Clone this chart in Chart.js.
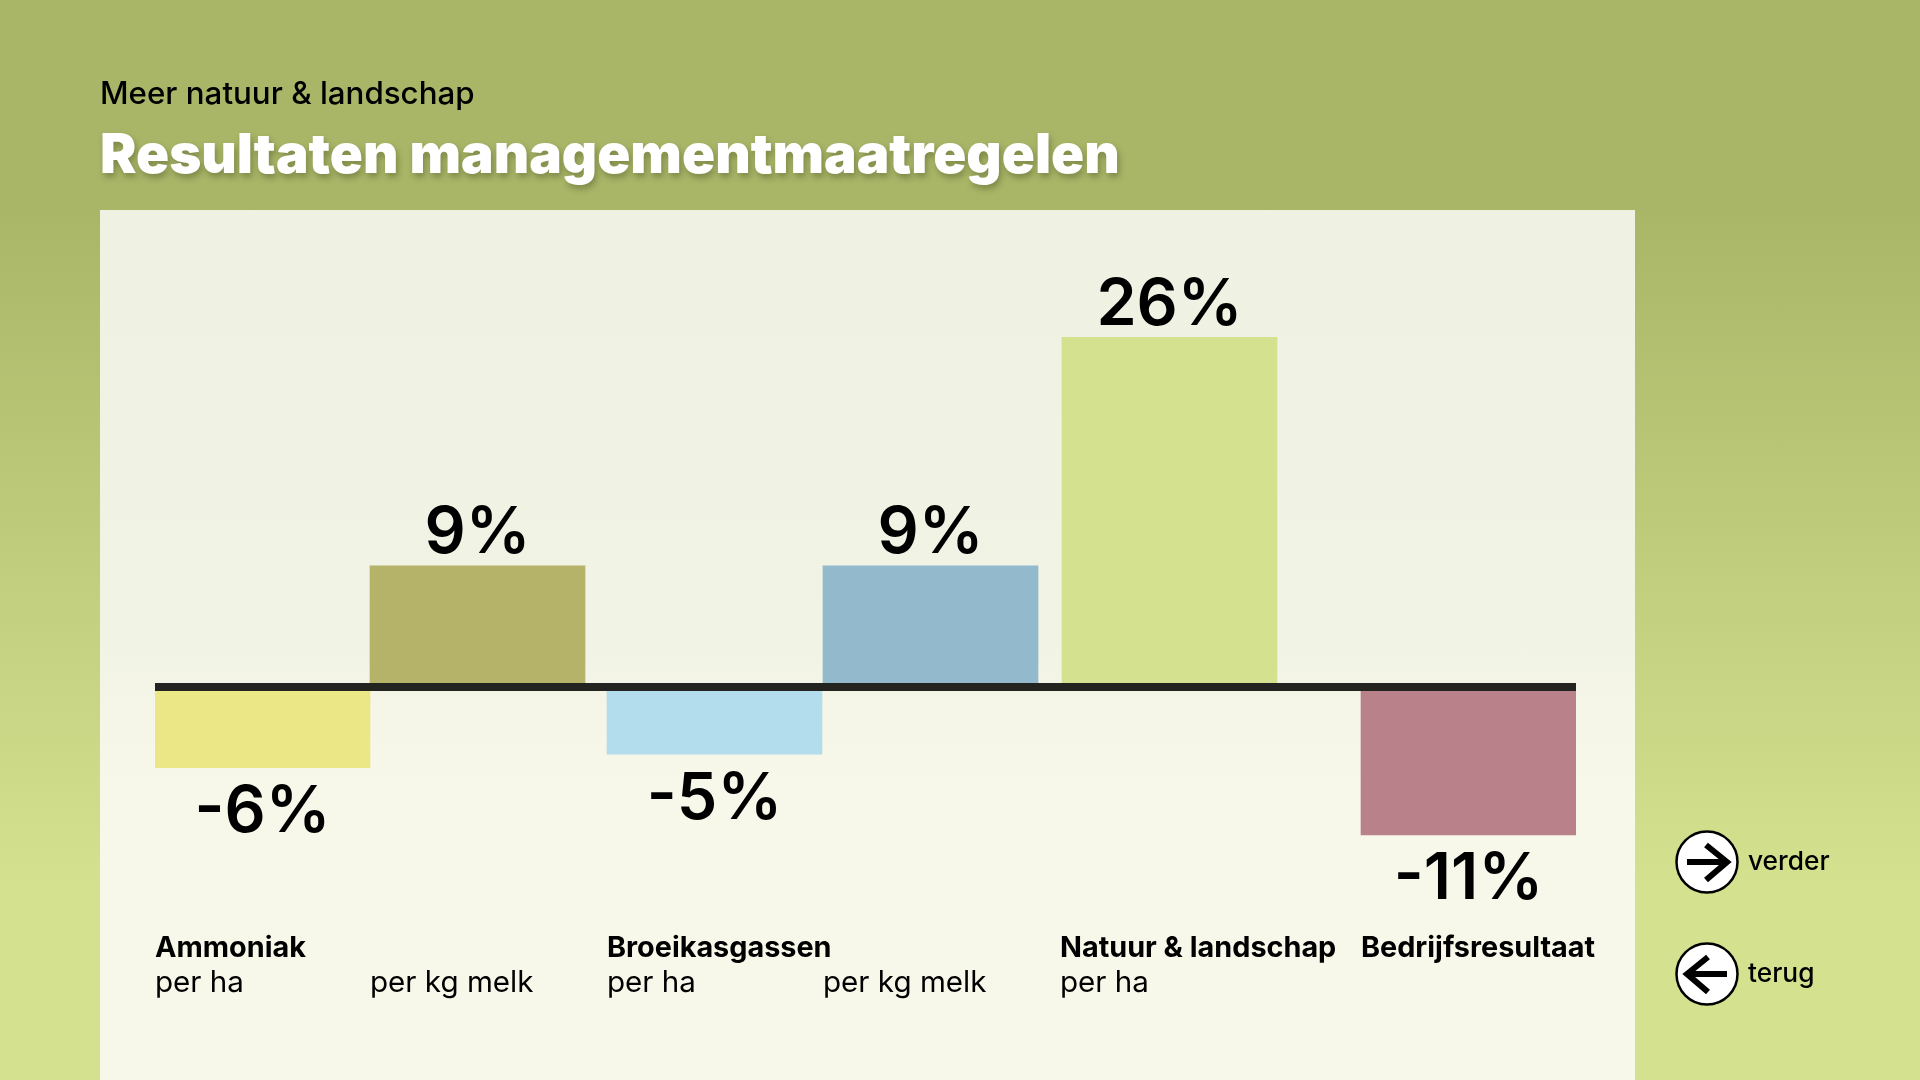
<!DOCTYPE html>
<html>
<head>
<meta charset="utf-8">
<title>Resultaten managementmaatregelen</title>
<script src="https://cdn.jsdelivr.net/npm/chart.js@4"></script>
<style>
html,body{margin:0;padding:0;width:1920px;height:1080px;overflow:hidden;font-family:Inter,sans-serif;color:#000}
body{position:relative;background:linear-gradient(180deg,#a9b668 0%,#a9b668 19%,#d4e28f 82%,#d4e28f 100%)}
#panel{position:absolute;left:100px;top:210px;width:1535px;height:870px;background:linear-gradient(180deg,#eff1e3 0%,#f1f3e5 50%,#f5f6e7 58%,#f7f8e9 66%,#f7f8e9 100%)}
#chart{position:absolute;left:0;top:0}
.sub{position:absolute;left:100px;top:75px;font-size:31.3px;font-weight:500;line-height:36px;white-space:nowrap}
.main{position:absolute;left:100px;top:118px;font-size:54.7px;font-weight:900;line-height:70px;color:#fff;white-space:nowrap;text-shadow:2px 4px 6px rgba(70,80,30,.45)}
.nav{position:absolute;left:1748px;font-size:26.3px;font-weight:500;line-height:30px}
svg{position:absolute;left:1675px;width:64px;height:64px}
</style>
</head>
<body>
<div id="panel"></div>
<canvas id="chart" width="1920" height="1080"></canvas>
<div class="sub">Meer natuur &amp; landschap</div>
<div class="main">Resultaten managementmaatregelen</div>
<svg style="top:830px" viewBox="0 0 64 64"><circle cx="32" cy="32" r="30.5" fill="#fff" stroke="#000" stroke-width="2.5"/><path d="M12 32H52M31 15L52 32L31 50" fill="none" stroke="#000" stroke-width="6"/></svg>
<svg style="top:942px" viewBox="0 0 64 64"><circle cx="32" cy="32" r="30.5" fill="#fff" stroke="#000" stroke-width="2.5"/><path d="M52 32H12M33 15L12 32L33 50" fill="none" stroke="#000" stroke-width="6"/></svg>
<div class="nav" style="top:846px">verder</div>
<div class="nav" style="top:958px">terug</div>
<script>
const groups=["Ammoniak","","Broeikasgassen","","Natuur & landschap","Bedrijfsresultaat"];
const units=["per ha","per kg melk","per ha","per kg melk","per ha",""];
const values=[-6,9,-5,9,26,-11];
const colours=["#ebe787","#b5b26a","#b3dcec","#93b9cd","#d4e28f","#b9818a"];

// bars are not evenly spaced in the original, so x runs in page pixels
const slotLeft=[155,370,607,823,1062,1361];
const labelLeft=[155,370,607,823,1060,1361];
const barWidth=215;
const labelFont="Inter";

const barLabels={
    id:"barLabels",
    afterDraw(chart){
        const ctx=chart.ctx;
        const bars=chart.getDatasetMeta(0).data;
        const xs=chart.scales.x;
        ctx.save();
        ctx.fillStyle="#000";
        ctx.textBaseline="alphabetic";
        ctx.textAlign="center";
        ctx.font="600 64.5px "+labelFont;
        values.forEach((v,i)=>{
            const y=v<0 ? bars[i].y+64.5 : bars[i].y-12.5;
            ctx.fillText(v+"%",bars[i].x,y);
        });
        ctx.textAlign="left";
        ctx.font="700 28.8px "+labelFont;
        groups.forEach((g,i)=>{
            ctx.fillText(g,xs.getPixelForValue(labelLeft[i]),957);
        });
        ctx.restore();
    }
};

new Chart(document.getElementById("chart"),{
    type:"bar",
    plugins:[barLabels],
    data:{
        datasets:[{
            data:values.map((v,i)=>({x:slotLeft[i]+barWidth/2,y:v})),
            backgroundColor:colours,
            borderWidth:0,
            barThickness:barWidth
        }]
    },
    options:{
        responsive:false,
        animation:false,
        devicePixelRatio:1,
        layout:{padding:{left:155,right:344,top:283.5,bottom:0}},
        plugins:{legend:{display:false},tooltip:{enabled:false}},
        scales:{
            x:{
                type:"linear",
                min:155,
                max:1576,
                offset:false,
                grid:{display:false,offset:false},
                border:{display:false},
                afterBuildTicks(s){s.ticks=labelLeft.map(v=>({value:v}));},
                afterFit(s){s.height=150.9;},
                ticks:{
                    autoSkip:false,
                    maxRotation:0,
                    align:"start",
                    padding:28,
                    color:"#000",
                    font:{family:labelFont,size:29.6,weight:"400"},
                    callback:(v,i)=>units[i]
                }
            },
            y:{
                min:-18,
                max:30,
                border:{display:false},
                afterBuildTicks(s){s.ticks=[{value:0}];},
                afterFit(s){s.width=0;},
                ticks:{display:false},
                grid:{z:1,color:"#23231f",lineWidth:8,drawTicks:false}
            }
        }
    }
});
</script>
</body>
</html>
